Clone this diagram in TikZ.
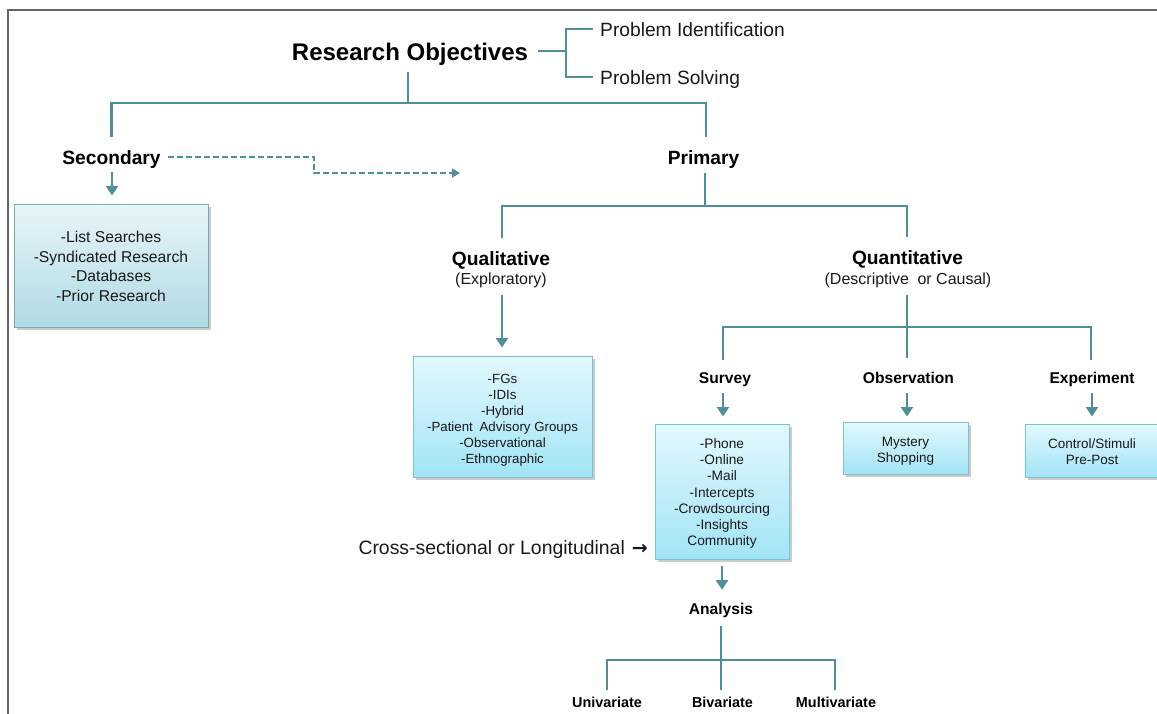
\documentclass[tikz,border=0pt]{standalone}
\usepackage{fontspec}
\setmainfont{Liberation Sans}
\newfontfamily\dejavu{DejaVu Sans}
\usetikzlibrary{arrows.meta,shadows,calc}
\definecolor{teal1}{RGB}{80,142,152}
\definecolor{framegray}{RGB}{100,100,100}
\definecolor{secTop}{RGB}{232,245,248}
\definecolor{secBot}{RGB}{176,218,228}
\definecolor{secBorder}{RGB}{120,170,180}
\definecolor{cyTop}{RGB}{226,248,253}
\definecolor{cyBot}{RGB}{162,228,246}
\definecolor{cyBorder}{RGB}{120,195,212}
\definecolor{txt}{RGB}{25,25,25}
\newcommand{\dnstrut}[1]{\rule{0pt}{#1}}
\begin{document}
\begin{tikzpicture}[x=1pt,y=-1pt,
 lbl/.style={inner sep=0pt, text depth=0pt, anchor=base, text=black},
 fH/.style={font=\fontsize{24}{28}\selectfont\bfseries, text height=17.5pt},
 fB/.style={font=\fontsize{19.2}{23}\selectfont\bfseries, text height=14pt},
 fR/.style={font=\fontsize{19.2}{23}\selectfont, text height=14pt, text=txt},
 fS/.style={font=\fontsize{16}{19}\selectfont, text height=11.7pt, text=txt},
 fM/.style={font=\fontsize{15.6}{19}\selectfont\bfseries, text height=11.4pt},
 fU/.style={font=\fontsize{14.4}{17}\selectfont\bfseries, text height=10.5pt},
 tree/.style={draw=teal1, line width=2.6pt},
 arr/.style={draw=teal1, line width=2.2pt, -{Triangle[width=12pt,length=9.5pt]}},
 dsh/.style={draw=teal1, line width=2pt, dash pattern=on 6pt off 3pt, -{Triangle[width=9pt,length=8pt]}},
 boxbase/.style={draw, line width=1pt, align=center, inner sep=0pt, text=txt,
   drop shadow={shadow xshift=2.5pt, shadow yshift=-2.5pt, fill=black!45, opacity=0.45}},
 secbx/.style={boxbase, draw=secBorder, top color=secTop, bottom color=secBot},
 cybx/.style={boxbase, draw=cyBorder, top color=cyTop, bottom color=cyBot},
]
\useasboundingbox (0,0) rectangle (1157,713);
\fill[white] (0,0) rectangle (1157,713);
\draw[framegray, line width=2pt] (8,714) -- (8,10) -- (1158,10);

% top
\node[lbl,fH] (ro) at (410,60) {Research Objectives};
\node[lbl,fR,anchor=base west] (pi) at (600,36) {Problem Identification};
\node[lbl,fR,anchor=base west] (ps) at (600,84) {Problem Solving};
\coordinate (brk) at (566,51);
\draw[tree] ($(ro.east |- brk)+(10,0)$) -- (brk);
\draw[tree] ($(pi.west)+(-7,0)$) -| (brk) |- ($(ps.west)+(-7,0)$);

\node[lbl,fB] (sec) at (111.5,164) {Secondary};
\node[lbl,fB] (pri) at (703.5,164) {Primary};
\coordinate (jro) at (408,103);
\draw[tree] ($(jro |- ro.south)+(0,12)$) -- (jro);
\draw[tree] ($(sec.north)+(0,-13)$) |- (jro) -| ($(pri.north)+(2.5,-13)$);

% secondary
\node[secbx, minimum width=194pt, minimum height=123pt, font=\fontsize{15.7}{19.5}\selectfont] (secbox) at (111,265.5)
  {\dnstrut{13.5pt}-List Searches\\-Syndicated Research\\-Databases\\-Prior Research};
\draw[arr] ($(sec.south)+(0.5,8)$) -- ($(sec.south |- secbox.north)+(0.5,-8)$);
\coordinate (dmid) at (314,173);
\coordinate (dashend) at (460,173);
\draw[dsh] ($(sec.east)+(7,0)$) -| (dmid) -- (dashend);

% primary
\coordinate (jpri) at (705,206);
\node[lbl,fB] (qual) at (501,265) {Qualitative};
\node[lbl,fS] (qualsub) at (501,284.5) {(Exploratory)};
\node[lbl,fB] (quant) at (907.5,264.5) {Quantitative};
\node[lbl,fS] (quantsub) at (908,284.5) {(Descriptive\hspace{4pt} or Causal)};
\draw[tree] ($(jpri |- pri.south)+(0,9)$) -- (jpri);
\draw[tree] ($(qual.north)+(1,-13)$) |- (jpri) -| ($(quant.north)+(-0.5,-13)$);

% qualitative
\node[cybx, minimum width=179pt, minimum height=121pt, font=\fontsize{13.3}{16}\selectfont] (qualbox) at (502.5,416.5)
  {\dnstrut{17.7pt}-FGs\\-IDIs\\-Hybrid\\-Patient\hspace{3pt} Advisory Groups\\-Observational\\-Ethnographic};
\draw[arr] ($(qualsub.south)+(1,10)$) -- ($(qualsub.south |- qualbox.north)+(1,-8)$);

% quantitative
\node[lbl,fM] (survey) at (725,383.5) {Survey};
\node[lbl,fM] (obs) at (908.5,383.5) {Observation};
\node[lbl,fM] (exp) at (1092,383.5) {Experiment};
\coordinate (jq) at (907,327);
\draw[tree] ($(quantsub.south)+(-1,10)$) -- ($(obs.north)+(-1.5,-14)$);
\draw[tree] ($(survey.north)+(-2,-12)$) |- (jq) -| ($(exp.north)+(-1,-12)$);

\node[cybx, minimum width=134pt, minimum height=135pt, font=\fontsize{13.7}{16.2}\selectfont] (survbox) at (722,491.5)
  {\dnstrut{14pt}-Phone\\-Online\\-Mail\\-Intercepts\\-Crowdsourcing\\-Insights\\Community};
\node[cybx, minimum width=125pt, minimum height=52pt, font=\fontsize{13.5}{16}\selectfont] (obsbox) at (905.5,448)
  {\dnstrut{15.8pt}Mystery\\Shopping};
\node[cybx, minimum width=134pt, minimum height=53pt, font=\fontsize{13.5}{16}\selectfont] (expbox) at (1092,450.5)
  {\dnstrut{12pt}Control/Stimuli\\Pre-Post};
\draw[arr] ($(survey.south)+(-2,9.5)$) -- ($(survey.south |- survbox.north)+(-2,-7)$);
\draw[arr] ($(obs.south)+(-1.5,9.5)$) -- ($(obs.south |- obsbox.north)+(-1.5,-5)$);
\draw[arr] ($(exp.south)+(0,9.5)$) -- ($(exp.south |- expbox.north)+(0,-7)$);

\node[lbl,fR,anchor=base east,font=\fontsize{19.4}{23}\selectfont] (cross) at (648,554) {Cross-sectional or Longitudinal\hspace{7pt}{\dejavu\bfseries\fontsize{19}{23}\selectfont →}};

% analysis
\node[lbl,fM] (analysis) at (721,614.3) {Analysis};
\draw[arr] ($(survbox.south)+(0,6)$) -- ($(survbox.south |- analysis.north)+(0,-13)$);
\node[lbl,fU] (uni) at (607,707.5) {Univariate};
\node[lbl,fU] (bi) at (722.5,707.5) {Bivariate};
\node[lbl,fU] (multi) at (836,707.5) {Multivariate};
\coordinate (ja) at (721,660);
\draw[tree] ($(analysis.south)+(0,11)$) -- ($(bi.north)+(-1.5,-7)$);
\draw[tree] ($(uni.north)+(0,-7)$) |- (ja) -| ($(multi.north)+(-1,-7)$);
\end{tikzpicture}
\end{document}
